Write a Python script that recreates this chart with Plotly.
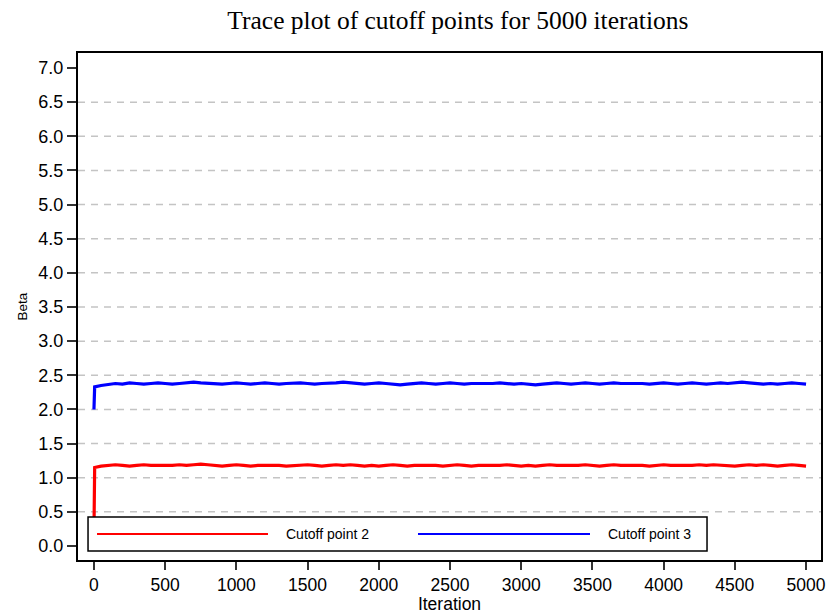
import plotly.graph_objects as go

# ---- data ----
iterations = [0, 5] + list(range(50, 5001, 50))

cutoff3 = [
    2.00, 2.33, 2.35, 2.37, 2.38, 2.37, 2.39, 2.38, 2.37, 2.38,
    2.39, 2.38, 2.37, 2.38, 2.39, 2.40, 2.39, 2.38, 2.38, 2.37,
    2.38, 2.39, 2.38, 2.37, 2.38, 2.39, 2.38, 2.37, 2.38, 2.39,
    2.39, 2.38, 2.37, 2.38, 2.38, 2.39, 2.40, 2.39, 2.38, 2.37,
    2.38, 2.39, 2.38, 2.37, 2.36, 2.37, 2.38, 2.39, 2.38, 2.37,
    2.38, 2.39, 2.38, 2.37, 2.38, 2.38, 2.37, 2.38, 2.39, 2.38,
    2.37, 2.38, 2.37, 2.36, 2.37, 2.38, 2.39, 2.38, 2.37, 2.38,
    2.39, 2.38, 2.37, 2.38, 2.39, 2.38, 2.38, 2.39, 2.38, 2.37,
    2.38, 2.39, 2.38, 2.37, 2.38, 2.39, 2.38, 2.37, 2.38, 2.39,
    2.38, 2.39, 2.40, 2.39, 2.38, 2.37, 2.38, 2.37, 2.38, 2.39, 2.38, 2.37,
]

cutoff2 = [
    0.20, 1.15, 1.17, 1.18, 1.19, 1.18, 1.17, 1.18, 1.19, 1.18,
    1.18, 1.17, 1.18, 1.19, 1.18, 1.19, 1.20, 1.19, 1.18, 1.17,
    1.18, 1.19, 1.18, 1.17, 1.18, 1.18, 1.19, 1.18, 1.17, 1.18,
    1.18, 1.19, 1.18, 1.17, 1.18, 1.19, 1.18, 1.19, 1.18, 1.17,
    1.18, 1.17, 1.18, 1.19, 1.18, 1.17, 1.18, 1.18, 1.19, 1.18,
    1.17, 1.18, 1.19, 1.18, 1.17, 1.18, 1.18, 1.17, 1.18, 1.19,
    1.18, 1.17, 1.18, 1.17, 1.18, 1.19, 1.18, 1.18, 1.17, 1.18,
    1.19, 1.18, 1.17, 1.18, 1.19, 1.18, 1.18, 1.19, 1.18, 1.17,
    1.18, 1.19, 1.18, 1.18, 1.17, 1.18, 1.19, 1.18, 1.19, 1.18,
    1.18, 1.17, 1.18, 1.19, 1.18, 1.19, 1.18, 1.17, 1.18, 1.19, 1.18, 1.17,
]

x_ticks = list(range(0, 5001, 500))
y_ticks = [i * 0.5 for i in range(15)]
y_tick_labels = [f"{v:.1f}" for v in y_ticks]
grid_levels = [v for v in y_ticks if 0 < v < 7]

series_names = ["Cutoff point 2", "Cutoff point 3"]
series_colors = ["#ff0000", "#0000ff"]

SANS = "Liberation Sans, Arial, Helvetica"

# ---- figure ----
fig = go.Figure()
for name, vals, col in zip(series_names, [cutoff2, cutoff3], series_colors):
    fig.add_trace(go.Scatter(x=iterations, y=vals, mode="lines", name=name,
                             line=dict(color=col, width=3.2), showlegend=False))

shapes = []
for g in grid_levels:
    shapes.append(dict(type="line", xref="paper", yref="y", x0=0, x1=1, y0=g, y1=g,
                       line=dict(color="#c4c4c4", width=1.5, dash="7px,6px"), layer="below"))

# legend box drawn in paper coordinates
shapes.append(dict(type="rect", xref="paper", yref="paper", x0=0.0135, x1=0.8466,
                   y0=0.0178, y1=0.0848, fillcolor="white",
                   line=dict(color="black", width=1.5), layer="above"))
leg_items = [(0.0256, 0.2557, 0.280), (0.4576, 0.6891, 0.7133)]
annotations = []
for (lx0, lx1, tx), name, col in zip(leg_items, series_names, series_colors):
    shapes.append(dict(type="line", xref="paper", yref="paper", x0=lx0, x1=lx1,
                       y0=0.0513, y1=0.0513, line=dict(color=col, width=2), layer="above"))
    annotations.append(dict(xref="paper", yref="paper", x=tx, y=0.0513, text=name,
                            showarrow=False, xanchor="left", yanchor="middle",
                            xshift=-2,
                            font=dict(family=SANS, size=14, color="black")))

fig.update_layout(
    width=828, height=614,
    margin=dict(l=78, r=7, t=53, b=54, autoexpand=False),
    paper_bgcolor="white", plot_bgcolor="white",
    title=dict(text="Trace plot of cutoff points for 5000 iterations",
               x=0.553, xanchor="center", y=0.967, yanchor="middle",
               font=dict(family="Liberation Serif, Times New Roman", size=25.5, color="black")),
    font=dict(family=SANS, color="black"),
    shapes=shapes, annotations=annotations,
)
fig.update_xaxes(range=[-112, 5105], tickvals=x_ticks, ticks="outside", ticklen=8,
                 tickwidth=1.5, tickcolor="#333", showline=True, linecolor="black",
                 linewidth=2, mirror=True, showgrid=False, zeroline=False,
                 automargin=False, tickfont=dict(size=17.5),
                 title=dict(text="Iteration", font=dict(size=17.5), standoff=3))
fig.update_yaxes(range=[-0.205, 7.22], tickvals=y_ticks, ticktext=y_tick_labels,
                 ticks="outside", ticklen=9, tickwidth=1.5, tickcolor="#333",
                 showline=True, linecolor="black", linewidth=2, mirror=True,
                 showgrid=False, zeroline=False, automargin=False,
                 tickfont=dict(size=18),
                 title=dict(text="Beta", font=dict(size=13.5), standoff=8))

fig.write_html("out.html", config={"displayModeBar": False},
               post_script="document.body.style.margin='0';document.body.style.overflow='hidden';")
